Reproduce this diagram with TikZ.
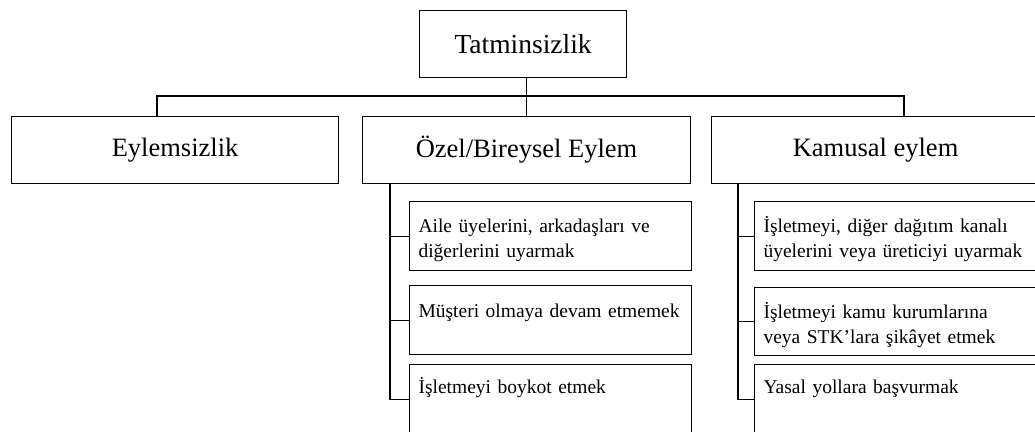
\documentclass[tikz,border=0pt]{standalone}
\usepackage{fontspec}
\setmainfont{Liberation Serif}
\begin{document}
\begin{tikzpicture}[x=1pt,y=-1pt,line width=1.1pt,
  box/.style={draw,rectangle,inner sep=0pt,anchor=north west},
  toptext/.style={font=\fontsize{27.5}{33}\selectfont},
  midtext/.style={font=\fontsize{26.5}{32}\selectfont},
  subtext/.style={font=\fontsize{19.5}{25}\selectfont,inner sep=0pt,anchor=base west,text width=300pt,align=left}]
\clip (0,0) rectangle (1035,431);
\fill[white] (0,0) rectangle (1035,431);
% level 0
\node[box,minimum width=207pt,minimum height=67pt,toptext] (top) at (419,10) {Tatminsizlik};
% level 1
\node[box,minimum width=327pt,minimum height=67pt,midtext] (eyl) at (11,116) {Eylemsizlik};
\node[box,minimum width=328pt,minimum height=67pt,midtext] (oz) at (362,116) {Özel/Bireysel Eylem};
\node[box,minimum width=328pt,minimum height=67pt,midtext] (kam) at (711,116) {Kamusal eylem};
% level 2, middle column
\node[box,minimum width=282pt,minimum height=69pt] (m1) at (409,201) {};
\node[box,minimum width=282pt,minimum height=69pt] (m2) at (409,285) {};
\node[box,minimum width=282pt,minimum height=69pt] (m3) at (409,364) {};
\node[subtext] (m1t) at ([shift={(9,31)}]m1.north west) {Aile üyelerini, arkadaşları ve\\diğerlerini uyarmak};
\node[subtext] (m2t) at ([shift={(9,32)}]m2.north west) {Müşteri olmaya devam etmemek};
\node[subtext] (m3t) at ([shift={(9,29)}]m3.north west) {İşletmeyi boykot etmek};
% level 2, right column
\node[box,minimum width=290pt,minimum height=69pt] (k1) at (754,201) {};
\node[box,minimum width=290pt,minimum height=68pt] (k2) at (754,287) {};
\node[box,minimum width=290pt,minimum height=69pt] (k3) at (754,364) {};
\node[subtext] (k1t) at ([shift={(9,31)}]k1.north west) {İşletmeyi, diğer dağıtım kanalı\\üyelerini veya üreticiyi uyarmak};
\node[subtext] (k2t) at ([shift={(9,31)}]k2.north west) {İşletmeyi kamu kurumlarına\\veya STK’lara şikâyet etmek};
\node[subtext] (k3t) at ([shift={(9,29)}]k3.north west) {Yasal yollara başvurmak};
% connectors
\coordinate (hl) at (157,96);
\coordinate (hr) at (904,96);
\draw (top.south -| oz.north) -- (oz.north);
\draw (hl |- eyl.north) -- (hl) -- (hr) -- (hr |- kam.north);
\coordinate (mv) at (390,183);
\draw (mv) -- (mv |- m3.west) -- (m3.west);
\draw (mv |- m1.west) -- (m1.west);
\draw (mv |- m2.west) -- (m2.west);
\coordinate (kv) at (738,183);
\draw (kv) -- (kv |- k3.west) -- (k3.west);
\draw (kv |- k1.west) -- (k1.west);
\draw (kv |- k2.west) -- (k2.west);
\end{tikzpicture}
\end{document}
